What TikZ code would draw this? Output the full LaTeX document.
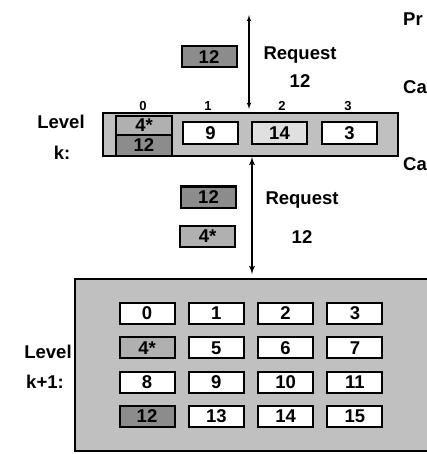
\documentclass[tikz,border=0pt]{standalone}
\usepackage{fontspec}
\setmainfont{Liberation Sans}
\usepackage{tikz}
\usetikzlibrary{arrows, positioning}
\definecolor{cellDark}{HTML}{8C8C8C}
\definecolor{cellMid}{HTML}{B0B0B0}
\definecolor{cellPale}{HTML}{E0E0E0}
\definecolor{panelGray}{HTML}{C0C0C0}
\tikzstyle{cell} = [rectangle, draw, line width=2pt, fill=white, minimum width=55pt, minimum height=21pt, inner sep=0pt, font=\fontsize{18.5}{20}\selectfont\bfseries]
\tikzstyle{panel} = [rectangle, draw, line width=2pt, fill=panelGray, inner sep=0pt]
\tikzstyle{lbl} = [font=\fontsize{18.5}{20}\selectfont\bfseries, inner sep=0pt]
\tikzstyle{idx} = [font=\fontsize{13}{14}\selectfont\bfseries, inner sep=0pt]
\tikzstyle{side} = [font=\fontsize{18.5}{20}\selectfont\bfseries, anchor=west, inner sep=0pt]

\begin{document}
\begin{tikzpicture}[x=1pt, y=-1pt]
    \clip (0,0) rectangle (427,454);
    \fill [white] (0,0) rectangle (427,454);

    % Level k
    \node [panel, minimum width=295pt, minimum height=43pt] (levelk) at (250.5,134.5) {};
    \node [cell, fill=cellMid, minimum width=56pt, minimum height=19pt] (slot0a) at (144,125.5) {4*};
    \node [cell, fill=cellDark, minimum width=56pt, minimum height=21pt] (slot0b) at (144,145.5) {12};
    \node [cell, minimum height=22pt] (slot1) at (210.5,133) {9};
    \node [cell, fill=cellPale, minimum height=22pt] (slot2) at (279.5,133) {14};
    \node [cell, minimum height=22pt] (slot3) at (349.5,133) {3};
    \node [idx] (ix0) at (143,106) {0};
    \node [idx] (ix1) at (208,106) {1};
    \node [idx] (ix2) at (282,106) {2};
    \node [idx] (ix3) at (348,106) {3};
    \node [lbl] (lvk) at (61,122) {Level};
    \node [lbl] (lvkb) at (62,153) {k:};

    % Level k+1
    \node [panel, minimum width=370pt, minimum height=172pt] (levelk1) at (260,365) {};
    \foreach \r in {0,...,3}
      \foreach \c in {0,...,3} {
        \pgfmathtruncatemacro{\n}{4*\r+\c}
        \def\fillc{white}\def\txt{\n}
        \ifnum\n=4 \def\fillc{cellMid}\def\txt{4*}\fi
        \ifnum\n=12 \def\fillc{cellDark}\fi
        \node [cell, fill=\fillc] (blk\n) at ({147+69.3*\c}, {313.5+34.3*\r}) {\txt};
      }
    \node [lbl] (lvk1) at (48,352) {Level};
    \node [lbl] (lvk1b) at (45,382) {k+1:};

    % Requests
    \node [cell, fill=cellDark] (up12) at (209,57) {12};
    \node [lbl] (reqa) at (300,55) {Request};
    \node [lbl] (reqanum) at (300,81) {12};
    \node [cell, fill=cellDark] (dn12) at (208.5,197) {12};
    \node [cell, fill=cellMid] (dn4) at (207.5,236) {4*};
    \node [lbl] (reqb) at (302,200) {Request};
    \node [lbl] (reqbnum) at (302,237) {12};

    \coordinate (reqtop) at (249,15);
    \coordinate (reqend) at (249,109);
    \coordinate (dnx) at (252,0);
    \draw [line width=1.2pt, latex'-latex'] (reqtop) -- (reqend);
    \draw [line width=1.8pt, latex'-latex', shorten >=4pt] (levelk.south -| dnx) -- (levelk1.north -| dnx);

    % Side text
    \node [side] (sidea) at (403,19) {Pr};
    \node [side] (sideb) at (403,87) {Ca};
    \node [side] (sidec) at (403,164) {Ca};
\end{tikzpicture}
\end{document}
